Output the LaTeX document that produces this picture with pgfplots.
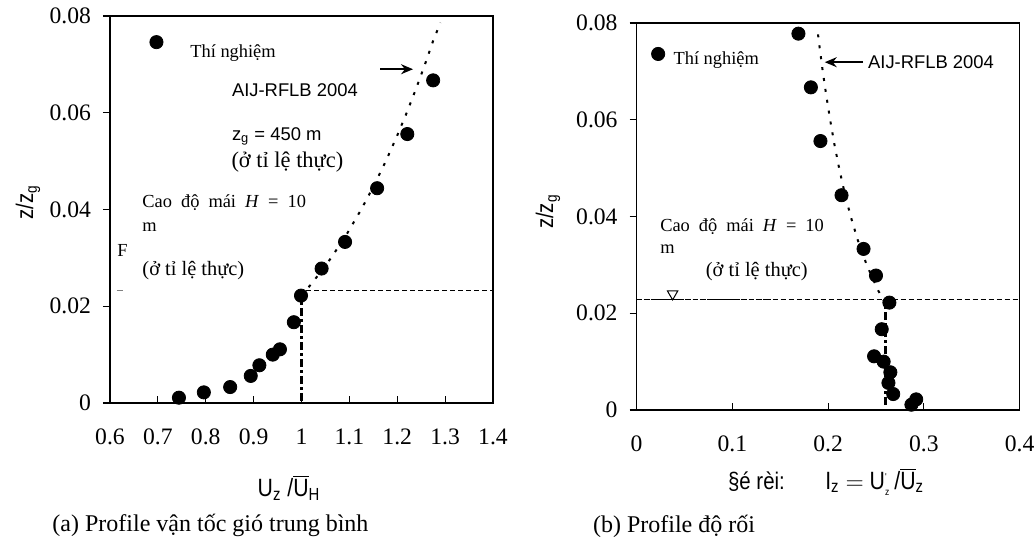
\documentclass[border=0pt]{standalone}
\usepackage{pgfplots}
\pgfplotsset{compat=1.18}
\usepackage{fontspec}
\usetikzlibrary{arrows.meta}
\setmainfont{Liberation Serif}
\newfontfamily\arial{Liberation Sans}
\newfontfamily\arialn[FakeStretch=0.85]{Liberation Sans}
\newcommand{\ann}{\fontsize{9.2}{11}\selectfont}
\newcommand{\annb}{\fontsize{10.2}{12}\selectfont}
\newcommand{\annc}{\fontsize{11.2}{13}\selectfont}
\newcommand{\ovl}[1]{$\overline{\hbox{#1}}$}

\pgfplotsset{
  prof/.style={
    scale only axis, width=191.5pt, height=193.5pt,
    axis line style={line width=0.6pt},
    xtick align=inside, ytick align=outside, tick pos=left,
    major tick length=3.5pt, tick style={line width=0.6pt, black},
    tick label style={font=\fontsize{11.8}{13}\selectfont},
    /pgf/number format/assume math mode=true,
    scaled ticks=false, clip=false,
    ymin=0, ymax=0.08, ytick={0,0.02,0.04,0.06,0.08},
    yticklabel style={/pgf/number format/fixed, /pgf/number format/precision=2, xshift=-2.5pt},
    xticklabel style={yshift=-9.5pt},
  },
  dot/.style={only marks, mark=*, mark size=3.3pt, black},
  aij/.style={black, line width=1pt, dash pattern=on 1.5pt off 4pt},
  base/.style={black, line width=1.4pt, dash pattern=on 4pt off 1.5pt on 1.5pt off 1.5pt},
  roof/.style={black, line width=0.5pt, dash pattern=on 2.5pt off 1.5pt},
}

\begin{document}
\begin{tikzpicture}
\path[use as bounding box] (0,0) rectangle (518pt,271pt);

% (a) mean wind speed profile
\begin{axis}[prof, at={(55pt,69.5pt)}, anchor=south west,
  xmin=0.6, xmax=1.4, xtick={0.6,0.7,0.8,0.9,1,1.1,1.2,1.3,1.4}]
\addplot[roof] coordinates {(1.01,0.0232) (1.4,0.0232)};
\addplot[gray, line width=0.5pt] coordinates {(0.614,0.0232) (0.628,0.0232)};
\addplot[base] coordinates {(1.0,0.0005) (1.0,0.021)};
\addplot[aij] coordinates {(1.0,0.0222) (1.0238,0.025) (1.0619,0.03) (1.0951,0.035) (1.1247,0.04)
  (1.1516,0.045) (1.1761,0.05) (1.1987,0.055) (1.2198,0.06) (1.2394,0.065) (1.2579,0.07)
  (1.2754,0.075) (1.2903,0.0786)};
\addplot[dot] coordinates {(0.744,0.0011) (0.796,0.0022) (0.851,0.0033) (0.894,0.0056)
  (0.912,0.0078) (0.940,0.0100) (0.955,0.0111) (0.984,0.0167) (0.999,0.0222)
  (1.042,0.0278) (1.091,0.0333) (1.158,0.0444) (1.221,0.0556) (1.275,0.0667)};
\addplot[dot] coordinates {(0.697,0.0746)};
\node[anchor=west, font=\ann, inner xsep=0pt] at (axis cs:0.767,0.0724) {Thí nghiệm};
\draw[-{Stealth[length=6pt,width=5pt]}, line width=0.8pt] (axis cs:1.164,0.069) -- (axis cs:1.233,0.069);
\node[anchor=west, font=\ann\arial, inner xsep=0pt] at (axis cs:0.854,0.0646) {AIJ-RFLB 2004};
\node[anchor=west, font=\ann\arial, inner xsep=0pt] at (axis cs:0.854,0.0551) {z\textsubscript{g} = 450 m};
\node[anchor=west, font=\annc, inner xsep=0pt] at (axis cs:0.853,0.0497) {(ở tỉ lệ thực)};
\node[anchor=west, font=\ann, inner xsep=0pt] at (axis cs:0.667,0.0414) {Cao\hspace{4.5pt}độ\hspace{4.5pt}mái\hspace{4.5pt}\textit{H}\hspace{4.5pt}=\hspace{4.5pt}10};
\node[anchor=west, font=\ann, inner xsep=0pt] at (axis cs:0.667,0.0364) {m};
\node[anchor=west, font=\ann, inner xsep=0pt] at (axis cs:0.6146,0.0316) {F};
\node[anchor=west, font=\annb, inner xsep=0pt] at (axis cs:0.667,0.0274) {(ở tỉ lệ thực)};
\node[rotate=90, font=\fontsize{12}{14}\selectfont\arialn] at (axis cs:0.4287,0.0415) {z/z\textsubscript{g}};
\node[font=\fontsize{12.5}{14}\selectfont\arialn] at (axis cs:0.974,-0.0176) {U\textsubscript{z} /\ovl{U}\textsubscript{H}};
\node[anchor=west, font=\fontsize{12}{14}\selectfont, inner xsep=0pt] at (axis cs:0.479,-0.0254) {(a) Profile vận tốc gió trung bình};
\end{axis}

% (b) turbulence intensity profile
\begin{axis}[prof, at={(318.3pt,66pt)}, anchor=south west,
  xmin=0, xmax=0.4, xtick={0,0.1,0.2,0.3,0.4}]
\addplot[roof] coordinates {(0,0.0228) (0.4,0.0228)};
\addplot[black, line width=0.7pt, dash pattern=on 2.5pt off 1pt] coordinates {(0,0.0228) (0.14,0.0228)};
\addplot[only marks, mark=triangle, mark size=3pt, mark options={rotate=180, line width=0.5pt}, black] coordinates {(0.0376,0.0240)};
\addplot[base] coordinates {(0.2598,0.001) (0.2598,0.0228)};
\addplot[aij] coordinates {(0.2591,0.0222) (0.2515,0.025) (0.2403,0.03) (0.2312,0.035)
  (0.2236,0.04) (0.2171,0.045) (0.2115,0.05) (0.2065,0.055) (0.2021,0.06) (0.1981,0.065)
  (0.1944,0.07) (0.1911,0.075) (0.1888,0.0787)};
\addplot[dot] coordinates {(0.287,0.0011) (0.292,0.0022) (0.268,0.0033) (0.263,0.0056)
  (0.265,0.0078) (0.258,0.0100) (0.248,0.0111) (0.256,0.0167) (0.264,0.0222)
  (0.250,0.0278) (0.237,0.0333) (0.214,0.0444) (0.192,0.0556) (0.182,0.0667) (0.169,0.0778)};
\addplot[dot] coordinates {(0.0225,0.0736)};
\node[anchor=west, font=\ann, inner xsep=0pt] at (axis cs:0.0382,0.0723) {Thí nghiệm};
\draw[-{Stealth[length=6pt,width=5pt]}, line width=0.8pt] (axis cs:0.2365,0.0719) -- (axis cs:0.1965,0.0719);
\node[anchor=west, font=\ann\arial, inner xsep=1pt] at (axis cs:0.2393,0.0719) {AIJ-RFLB 2004};
\node[anchor=west, font=\ann, inner xsep=0pt] at (axis cs:0.0243,0.0380) {Cao\hspace{4.5pt}độ\hspace{4.5pt}mái\hspace{4.5pt}\textit{H}\hspace{4.5pt}=\hspace{4.5pt}10};
\node[anchor=west, font=\ann, inner xsep=0pt] at (axis cs:0.0243,0.0332) {m};
\node[anchor=west, font=\annb, inner xsep=0pt] at (axis cs:0.072,0.0287) {(ở tỉ lệ thực)};
\node[rotate=90, font=\fontsize{12}{14}\selectfont\arialn] at (axis cs:-0.0926,0.041) {z/z\textsubscript{g}};
\node[font=\fontsize{12}{14}\selectfont\arialn] at (axis cs:0.1252,-0.0148) {§é rèi:};
\node[font=\fontsize{12.5}{14}\selectfont\arialn] at (axis cs:0.2487,-0.0148)
  {I\textsubscript{z} $=$ U$^{\hbox{\tiny '}}_{\hbox{\tiny z}}$\,/\ovl{U}\textsubscript{z}};
\node[anchor=west, font=\fontsize{12}{14}\selectfont, inner xsep=0pt] at (axis cs:-0.0459,-0.0240) {(b) Profile độ rối};
\end{axis}
\end{tikzpicture}
\end{document}
